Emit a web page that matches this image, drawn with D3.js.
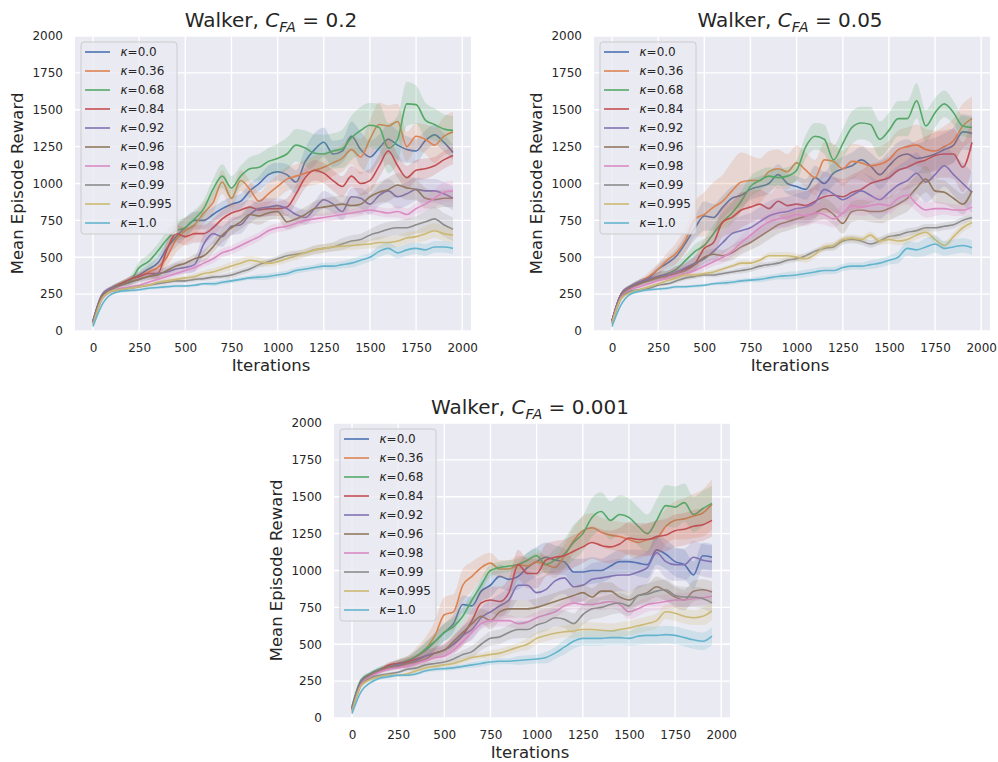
<!DOCTYPE html>
<html><head><meta charset="utf-8">
<script src="https://cdn.jsdelivr.net/npm/d3@7"></script>
<style>body{margin:0;background:#fff;} text{font-family:"DejaVu Sans",sans-serif;}</style>
</head><body><svg id="c" width="998" height="762"></svg>
<script>
// ---------- data ----------
const iterations = [0,50,100,150,200,250,300,350,400,450,500,550,600,650,700,750,800,850,900,950,
  1000,1050,1100,1150,1200,1250,1300,1350,1400,1450,1500,1550,1600,1650,1700,1750,1800,1850,1900,1950];
const kappas = ["0.0","0.36","0.68","0.84","0.92","0.96","0.98","0.99","0.995","1.0"];
const palette = ["#4c72b0","#dd8452","#55a868","#c44e52","#8172b3","#937860","#da8bc3","#8c8c8c","#ccb974","#64b5cd"];
const xTickValues = [0,250,500,750,1000,1250,1500,1750,2000];
const yTickValues = [0,250,500,750,1000,1250,1500,1750,2000];
const cfaLabels = ["0.2","0.05","0.001"];

// C_FA = 0.2 : mean reward per kappa
const meanCFA_0_2 = [
 [70,240,290,320,350,380,420,460,560,640,700,750,750,790,830,860,880,950,1000,1060,1080,1060,1010,1150,1230,1280,1200,1220,1320,1230,1180,1240,1300,1260,1230,1220,1290,1330,1280,1210],
 [60,240,290,320,350,370,400,430,500,620,680,720,800,870,1010,900,1020,960,880,930,980,1030,1050,1070,1090,1110,1140,1170,1230,1180,1300,1400,1390,1420,1250,1320,1300,1260,1320,1350],
 [70,230,290,320,340,430,470,540,620,680,700,760,830,960,1050,970,1050,1100,1110,1150,1170,1200,1260,1240,1205,1200,1220,1235,1310,1360,1395,1380,1240,1300,1540,1535,1430,1400,1370,1360],
 [60,240,290,320,350,370,390,390,550,660,640,660,660,700,760,800,820,840,820,830,830,840,930,1040,1090,1070,1020,980,1050,1000,1020,1120,1220,1120,1040,1090,1100,1120,1160,1190],
 [70,250,290,310,330,350,370,390,400,420,430,450,590,660,640,710,720,790,830,840,850,830,790,770,830,890,860,810,910,900,860,920,950,910,930,960,950,950,930,900],
 [60,240,280,310,330,350,370,380,410,440,460,490,510,570,650,700,740,790,780,800,810,740,760,790,830,840,850,860,850,860,910,940,960,990,970,960,900,890,900,900],
 [50,220,270,290,300,310,330,350,370,390,410,430,460,490,530,550,580,610,640,680,700,710,730,750,760,770,780,790,800,810,820,810,800,810,790,830,860,900,940,950],
 [50,220,270,280,290,300,310,320,330,340,340,350,355,365,370,380,400,420,450,470,490,510,520,530,550,560,570,590,610,620,650,670,690,700,700,720,740,760,720,690],
 [40,220,270,280,290,300,310,330,340,350,360,370,390,400,420,440,460,480,470,460,470,490,510,530,550,560,570,575,580,585,590,600,600,610,630,640,660,680,660,650],
 [30,180,250,270,275,280,290,295,300,305,305,310,320,320,330,340,350,360,365,370,380,390,410,420,430,440,440,450,460,480,500,540,560,530,550,560,550,570,570,560]
];
const stdCFA_0_2 = [
 [10,15,15,15,20,25,30,40,50,70,70,60,60,50,50,50,50,50,50,60,60,70,80,90,110,100,90,80,100,120,110,90,100,100,90,80,70,70,60,50],
 [10,15,15,15,20,25,30,40,60,90,90,80,70,70,80,70,70,60,60,70,80,80,80,90,100,100,90,90,100,120,130,150,140,120,100,90,100,120,130,140],
 [10,15,15,20,30,40,50,50,60,70,70,60,60,70,80,80,70,80,90,90,100,110,110,120,130,130,120,130,150,160,150,160,170,160,150,130,120,110,100,100],
 [10,15,15,15,20,25,30,40,60,60,60,60,60,60,60,60,50,50,50,50,50,60,60,70,70,70,70,70,70,80,80,80,90,80,80,70,70,60,60,60],
 [10,15,15,15,20,20,25,30,30,40,40,50,70,70,70,60,60,60,60,60,50,50,50,50,50,60,60,60,60,70,70,70,80,80,80,80,80,80,80,80],
 [10,15,15,15,20,20,25,25,30,30,30,30,40,40,50,50,50,60,60,50,50,50,50,50,50,60,60,60,60,70,70,70,80,80,80,70,70,60,60,60],
 [10,15,15,15,15,15,20,20,20,20,20,25,25,30,30,30,30,30,30,30,30,30,30,30,30,30,30,30,30,30,30,30,30,40,40,40,50,60,70,70],
 [10,10,10,10,10,10,10,10,15,15,15,15,15,15,15,20,20,20,20,20,20,25,25,25,30,30,30,40,40,40,40,50,50,50,60,60,70,80,80,80],
 [10,10,10,10,10,10,10,10,15,15,15,20,20,25,25,30,30,30,30,25,25,25,30,30,30,30,30,30,30,30,30,40,40,40,40,40,50,50,50,50],
 [10,10,10,10,10,10,10,10,10,10,10,10,10,15,15,15,15,15,20,20,20,20,20,20,20,25,25,25,30,30,30,40,40,40,40,40,40,40,40,40]
];

// C_FA = 0.05
const meanCFA_0_05 = [
 [70,250,300,330,360,420,460,510,600,700,780,770,840,900,920,960,980,1000,1060,1000,980,960,1040,1000,1070,1100,1120,1160,1120,1060,1120,1180,1200,1170,1180,1200,1230,1260,1350,1340],
 [70,250,300,330,370,420,480,530,620,760,790,840,880,950,1010,1020,1020,1080,1100,1080,1140,1090,1040,1160,1150,1100,1150,1140,1120,1130,1160,1230,1250,1260,1230,1220,1250,1290,1390,1440],
 [70,250,300,330,340,370,390,420,480,540,580,660,740,800,880,980,1020,1050,1040,1050,1090,1250,1320,1300,1160,1270,1380,1410,1400,1300,1360,1440,1440,1560,1390,1480,1540,1480,1390,1380],
 [70,250,300,330,350,370,380,400,420,460,560,600,740,770,820,840,860,830,880,850,860,850,880,910,920,910,940,960,1000,1020,1040,1090,1110,1140,1160,1190,1200,1200,1110,1280],
 [70,250,300,330,350,370,380,400,430,460,490,540,600,660,680,700,740,780,800,810,830,840,870,960,930,890,920,950,920,890,940,990,1020,1070,1010,1060,1120,1060,1000,940],
 [60,240,290,320,340,360,370,390,410,450,500,520,510,530,570,600,640,680,720,740,760,780,800,830,790,730,810,820,810,810,830,860,900,970,1030,950,940,900,860,950],
 [60,230,280,300,320,340,360,380,390,410,440,470,500,540,600,650,700,740,760,770,790,780,800,790,760,800,850,840,850,860,850,900,920,860,820,830,830,820,820,840],
 [50,220,270,280,290,310,320,340,360,370,380,380,390,400,410,420,440,450,460,480,490,510,540,560,570,610,620,610,590,610,640,650,670,680,700,700,710,720,750,770],
 [50,220,260,280,300,320,340,360,380,380,390,400,420,440,460,460,480,510,510,510,500,490,520,570,580,620,630,620,650,610,620,610,620,650,670,620,580,640,700,735],
 [30,180,250,270,280,285,290,300,300,305,310,320,325,330,340,345,350,360,370,375,380,390,400,410,410,430,440,440,450,460,480,500,560,550,570,590,560,570,580,565]
];
const stdCFA_0_05 = [
 [10,15,15,20,20,30,40,50,60,80,100,90,80,80,80,70,70,70,70,70,70,70,80,80,80,80,90,90,90,100,100,100,100,100,110,110,110,120,120,120],
 [10,15,15,20,30,40,50,70,90,120,150,170,180,200,200,170,150,140,130,120,120,120,120,120,120,120,120,120,120,120,130,130,130,140,140,140,140,150,150,150],
 [10,15,15,20,25,30,30,40,40,50,50,60,60,70,70,70,70,60,60,60,70,80,90,100,100,100,110,110,120,120,120,120,120,120,110,100,90,80,70,70],
 [10,15,15,20,20,30,30,40,40,50,60,80,100,110,120,110,100,100,100,100,100,100,110,110,120,120,120,130,130,130,140,140,150,150,160,160,160,170,170,180],
 [10,15,15,20,20,30,30,40,40,50,50,70,80,90,100,100,100,100,100,100,100,110,110,120,120,120,120,120,130,130,130,130,140,140,140,140,140,140,140,140],
 [10,15,15,15,20,20,25,30,30,40,40,40,40,50,50,50,60,60,60,60,60,60,60,70,70,70,70,70,70,80,80,80,90,90,90,80,80,70,70,70],
 [10,15,15,15,20,20,20,25,25,30,30,30,40,40,50,50,60,60,70,70,70,70,70,70,60,60,60,60,60,60,60,60,60,50,50,50,40,40,40,40],
 [10,10,10,10,10,10,10,15,15,15,15,15,15,15,20,20,20,20,20,20,20,20,20,20,25,25,25,25,25,25,25,25,25,25,25,25,25,25,25,25],
 [10,10,10,10,10,10,10,15,15,15,15,15,15,15,20,20,20,20,25,25,25,25,25,25,25,25,25,25,25,25,30,30,30,30,30,30,30,30,30,30],
 [10,10,10,10,10,10,10,10,10,10,10,10,15,15,15,15,20,20,20,25,25,25,25,25,25,25,25,25,30,30,30,40,50,50,60,60,50,50,50,50]
];

// C_FA = 0.001
const meanCFA_0_001 = [
 [70,250,300,330,350,370,380,420,460,520,580,640,770,760,860,900,960,940,960,1020,1060,1090,1070,1060,990,990,1000,1000,1030,1060,1060,1050,1040,1140,1110,1060,1040,970,1100,1090],
 [60,240,290,320,350,370,380,420,470,560,700,720,900,960,1020,1050,1010,1010,1040,1030,1060,1040,1020,1100,1200,1270,1290,1260,1240,1230,1210,1190,1210,1220,1300,1340,1350,1370,1390,1450],
 [80,260,300,330,350,370,390,420,470,520,580,620,690,800,900,1000,1020,1030,1040,1070,1100,1040,1070,1110,1190,1250,1360,1400,1340,1380,1360,1300,1250,1340,1440,1430,1460,1380,1420,1455],
 [60,240,290,320,360,370,380,400,420,440,460,500,560,660,780,800,790,850,1040,980,980,1070,1090,1100,1130,1160,1190,1170,1160,1180,1220,1210,1210,1230,1240,1270,1280,1300,1310,1340],
 [70,250,290,320,340,360,370,390,420,440,460,500,560,600,680,720,760,800,900,900,850,870,930,950,890,900,940,950,960,970,970,990,1020,1120,1060,1040,1040,1090,1070,1060],
 [60,240,290,320,340,350,370,380,400,440,460,520,580,640,690,660,720,740,740,740,750,770,790,810,830,850,820,860,860,820,800,830,850,890,860,820,800,860,870,855],
 [50,230,280,310,330,340,350,370,390,410,420,460,520,580,640,660,660,660,640,650,680,700,720,760,780,770,770,780,790,770,720,740,770,780,790,800,800,810,815,825],
 [50,220,270,290,300,310,330,340,360,370,380,400,430,450,500,540,550,580,600,600,630,650,680,670,640,700,740,750,770,780,760,830,840,860,870,830,820,820,810,780],
 [40,220,260,280,290,290,300,320,340,350,360,370,390,410,420,430,440,460,480,500,540,560,575,585,590,600,600,595,590,600,610,625,640,660,720,710,690,680,690,725],
 [30,180,240,270,280,290,290,300,320,330,335,340,350,360,370,380,385,385,390,395,400,410,440,480,520,540,540,540,545,545,540,555,560,560,565,560,545,530,520,555]
];
const stdCFA_0_001 = [
 [10,15,15,15,20,25,30,40,50,60,60,60,60,60,70,80,80,80,90,100,100,100,100,90,90,90,90,80,80,80,80,90,90,100,100,100,100,90,90,90],
 [10,15,15,15,20,30,40,60,80,100,120,120,110,100,80,70,60,60,60,60,60,60,70,80,90,100,100,100,100,100,110,110,110,120,120,130,140,150,160,170],
 [10,15,15,20,20,25,30,40,50,50,60,60,60,50,50,40,40,40,40,50,50,60,80,100,120,120,130,130,130,130,130,130,130,140,140,140,130,120,120,120],
 [10,15,15,15,20,20,30,30,40,40,50,60,70,80,90,90,100,100,100,100,100,110,110,110,110,110,110,110,110,110,110,110,110,110,110,110,110,110,110,110],
 [10,15,15,15,20,20,25,30,30,40,40,50,60,70,70,80,80,90,100,100,100,100,110,110,110,110,110,110,110,110,110,110,110,110,110,110,110,110,110,110],
 [10,15,15,15,20,20,25,25,30,30,30,40,40,50,50,60,60,60,60,60,60,60,60,60,60,60,60,60,60,60,60,60,60,70,70,70,70,70,70,70],
 [10,15,15,15,15,15,20,20,20,25,25,30,30,40,40,40,40,40,40,40,40,40,40,40,40,40,40,50,50,50,50,50,50,50,50,50,50,50,50,50],
 [10,10,10,10,10,10,15,15,15,20,20,30,30,40,40,50,50,50,60,60,60,60,60,60,70,70,70,70,70,70,70,70,70,70,70,70,70,70,70,70],
 [10,10,10,10,10,10,10,15,15,15,15,20,20,20,20,30,30,30,30,40,40,40,40,40,50,50,50,50,50,50,50,50,50,50,50,50,50,50,60,60],
 [10,10,10,10,10,10,10,10,10,15,15,15,15,20,20,20,20,20,30,30,30,40,40,50,50,50,50,50,50,50,50,60,60,60,60,60,60,60,60,60]
];

// ---------- drawing ----------
const svg = d3.select("#c");
const W = 396, H = 295;
const panels = [
  {cfa: cfaLabels[0], means: meanCFA_0_2,   stds: stdCFA_0_2,   left: 75,  top: 36},
  {cfa: cfaLabels[1], means: meanCFA_0_05,  stds: stdCFA_0_05,  left: 594, top: 36},
  {cfa: cfaLabels[2], means: meanCFA_0_001, stds: stdCFA_0_001, left: 334, top: 423}
];
const textColor = "#262626";

panels.forEach((p, pi) => {
  const g = svg.append("g").attr("transform", `translate(${p.left},${p.top})`);
  const x = d3.scaleLinear().domain([-97.5, 2047.5]).range([0, W]);
  const y = d3.scaleLinear().domain([0, 2000]).range([H, 0]);

  g.append("rect").attr("width", W).attr("height", H).attr("fill", "#eaeaf2");

  // grid
  g.selectAll(".gx").data(xTickValues).join("line")
    .attr("x1", d => x(d)).attr("x2", d => x(d)).attr("y1", 0).attr("y2", H)
    .attr("stroke", "#fff").attr("stroke-width", 1.4);
  g.selectAll(".gy").data(yTickValues).join("line")
    .attr("x1", 0).attr("x2", W).attr("y1", d => y(d)).attr("y2", d => y(d))
    .attr("stroke", "#fff").attr("stroke-width", 1.4);

  // axes
  const ax = g.append("g").attr("transform", `translate(0,${H})`)
    .call(d3.axisBottom(x).tickValues(xTickValues).tickSize(0).tickPadding(12).tickFormat(d3.format("d")));
  const ay = g.append("g")
    .call(d3.axisLeft(y).tickValues(yTickValues).tickSize(0).tickPadding(12).tickFormat(d3.format("d")));
  [ax, ay].forEach(a => {
    a.select(".domain").remove();
    a.selectAll("text").attr("font-size", 12).attr("fill", textColor)
      .style("font-family", "'DejaVu Sans', sans-serif");
  });

  // clip
  const cid = "clip" + pi;
  g.append("clipPath").attr("id", cid).append("rect").attr("width", W).attr("height", H);
  const plot = g.append("g").attr("clip-path", `url(#${cid})`);

  const line = d3.line().x((d, i) => x(iterations[i])).y(d => y(d)).curve(d3.curveMonotoneX);
  p.means.forEach((m, si) => {
    const s = p.stds[si];
    const area = d3.area().x((d, i) => x(iterations[i]))
      .y0((d, i) => y(d - s[i])).y1((d, i) => y(d + s[i])).curve(d3.curveMonotoneX);
    plot.append("path").datum(m).attr("d", line).attr("fill", "none")
      .attr("stroke", palette[si]).attr("stroke-width", 1.6);
    plot.append("path").datum(m).attr("d", area).attr("fill", palette[si]).attr("fill-opacity", 0.2);
  });

  // title
  const t = g.append("text").attr("x", W / 2 - 2).attr("y", -9).attr("text-anchor", "middle")
    .attr("font-size", 20).attr("fill", textColor);
  t.append("tspan").text("Walker, ");
  t.append("tspan").attr("font-style", "italic").text("C");
  t.append("tspan").attr("font-style", "italic").attr("font-size", 14).attr("dy", 5).text("FA");
  t.append("tspan").attr("dy", -5).text(" = " + p.cfa);

  // axis labels
  g.append("text").attr("x", W / 2 - 2).attr("y", H + 39.5).attr("text-anchor", "middle")
    .attr("font-size", 16.5).attr("fill", textColor).text("Iterations");
  g.append("text").attr("transform", `translate(-52.5,${H / 2}) rotate(-90)`)
    .attr("text-anchor", "middle").attr("font-size", 16.5).attr("fill", textColor)
    .text("Mean Episode Reward");

  // legend
  const lg = g.append("g").attr("transform", "translate(6,6)");
  lg.append("rect").attr("width", 96).attr("height", 192).attr("rx", 3)
    .attr("fill", "#eaeaf2").attr("fill-opacity", 0.8).attr("stroke", "#cccccc").attr("stroke-width", 1);
  kappas.forEach((k, i) => {
    const cy = 10 + i * 19;
    lg.append("line").attr("x1", 4).attr("x2", 29).attr("y1", cy).attr("y2", cy)
      .attr("stroke", palette[i]).attr("stroke-width", 1.6);
    const tx = lg.append("text").attr("x", 39.5).attr("y", cy + 4.3)
      .attr("font-size", 12).attr("fill", textColor);
    tx.append("tspan").attr("font-style", "italic").text("κ");
    tx.append("tspan").text("=" + k);
  });
});
</script></body></html>
